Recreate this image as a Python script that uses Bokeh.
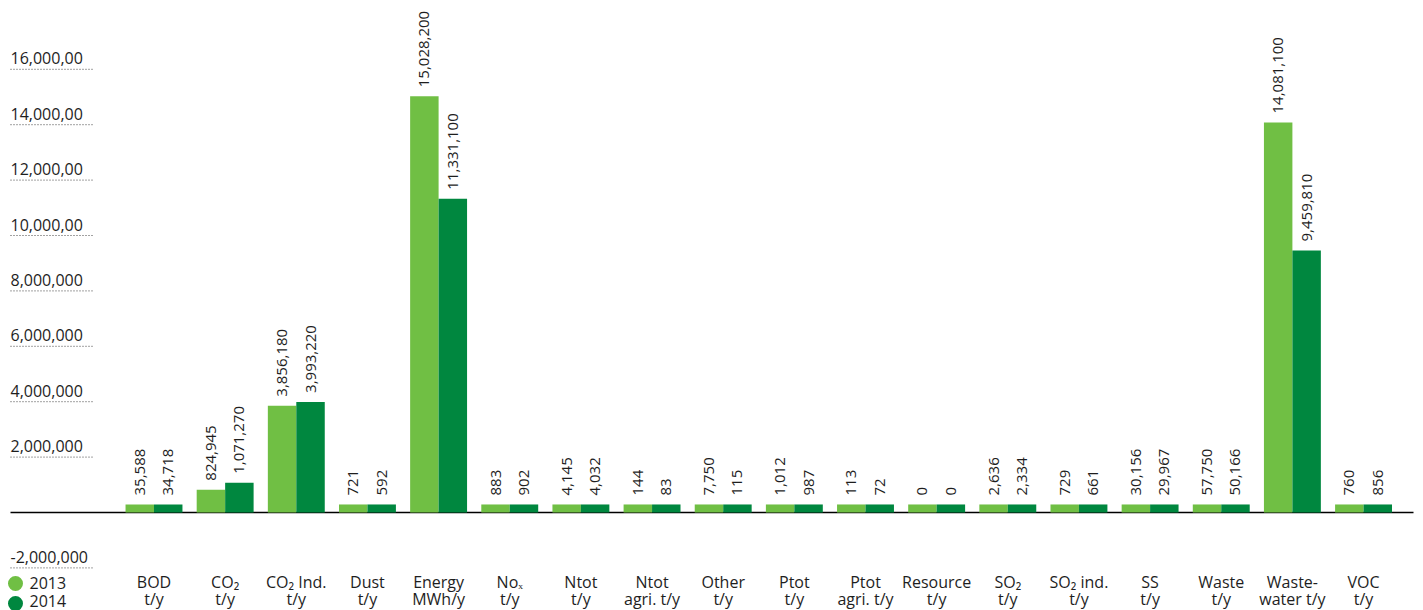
import numpy as np
from bokeh.plotting import figure
from bokeh.models import ColumnDataSource, Range1d
from bokeh.core.properties import value
from bokeh.embed import file_html
from bokeh.resources import INLINE

# ---- data -------------------------------------------------------------
categories = [
    "BOD\nt/y", "CO\u2082\nt/y", "CO\u2082 Ind.\nt/y", "Dust\nt/y",
    "Energy\nMWh/y", "No\u2093\nt/y", "Ntot\nt/y", "Ntot\nagri. t/y",
    "Other\nt/y", "Ptot\nt/y", "Ptot\nagri. t/y", "Resource\nt/y",
    "SO\u2082\nt/y", "SO\u2082 ind.\nt/y", "SS\nt/y", "Waste\nt/y",
    "Waste-\nwater t/y", "VOC\nt/y",
]
values_2013 = [35588, 824945, 3856180, 721, 15028200, 883, 4145, 144,
               7750, 1012, 113, 0, 2636, 729, 30156, 57750, 14081100, 760]
values_2014 = [34718, 1071270, 3993220, 592, 11331100, 902, 4032, 83,
               115, 987, 72, 0, 2334, 661, 29967, 50166, 9459810, 856]
years = ["2013", "2014"]
tick_values = [16e6, 14e6, 12e6, 10e6, 8e6, 6e6, 4e6, 2e6, -2e6]
tick_labels = ["16,000,00", "14,000,00", "12,000,00", "10,000,00",
               "8,000,000", "6,000,000", "4,000,000", "2,000,000",
               "-2,000,000"]

# ---- layout / style ---------------------------------------------------
W, H = 1423, 610
COLORS = ["#70bf44", "#00873f"]
TEXT = "#1e1e1e"
FONT = "Open Sans"
STUB = 290000          # smallest drawn bar so tiny values stay visible

PX_PER_CAT = 71.15     # horizontal pixels per category
FIRST_CENTER = 153.5   # pixel centre of the first group
PX_PER_UNIT = 27.7e-6  # vertical pixels per unit
ZERO_PX = 512          # pixel row of the zero line

x0 = -FIRST_CENTER / PX_PER_CAT
x1 = (W - FIRST_CENTER) / PX_PER_CAT
y1 = ZERO_PX / PX_PER_UNIT
y0 = -(H - ZERO_PX) / PX_PER_UNIT


def xpx(px):
    return x0 + px / PX_PER_CAT


def ypx(py):
    return y1 - py / PX_PER_UNIT


p = figure(width=W, height=H, x_range=Range1d(x0, x1), y_range=Range1d(y0, y1),
           output_backend="svg", toolbar_location=None, min_border=0,
           x_axis_location=None, y_axis_location=None)
p.grid.visible = False
p.outline_line_color = None
p.background_fill_color = "white"

idx = np.arange(len(categories))
bw = 0.40

# zero line
p.segment(x0=[xpx(10)], y0=[0], x1=[xpx(1413)], y1=[0], line_color="black", line_width=1.5)

for vals, col, off in [(values_2013, COLORS[0], -bw / 2), (values_2014, COLORS[1], bw / 2)]:
    v = np.array(vals, dtype=float)
    shown = np.maximum(v, STUB)
    src = ColumnDataSource(dict(x=idx + off, top=shown, lab=[f"{int(a):,}" for a in vals]))
    p.vbar(x="x", top="top", bottom=0, width=bw, source=src, fill_color=col, line_color=None)
    p.text(x="x", y="top", text="lab", source=src, angle=np.pi / 2, y_offset=-9,
           text_align="left", text_baseline="middle", text_font=value(FONT),
           text_font_size="15px", text_color=TEXT)

# y tick labels with dotted underline
p.segment(x0=[xpx(10)] * len(tick_values), y0=tick_values, x1=[xpx(94)] * len(tick_values),
          y1=tick_values, line_color="#444444", line_width=1, line_dash="1 2")
p.text(x=[xpx(10)] * len(tick_values), y=tick_values, text=tick_labels, y_offset=-11,
       text_align="left", text_baseline="alphabetic", text_font=value(FONT),
       text_font_size="16px", text_color=TEXT)

# category labels (two lines each)
line1 = [c.split("\n")[0] for c in categories]
line2 = [c.split("\n")[1] for c in categories]
p.text(x=idx, y=[ypx(581)] * len(idx), text=line1, text_align="center",
       text_baseline="alphabetic", text_font=value(FONT), text_font_size="16px", text_color=TEXT)
p.text(x=idx, y=[ypx(598)] * len(idx), text=line2, text_align="center",
       text_baseline="alphabetic", text_font=value(FONT), text_font_size="16px", text_color=TEXT)

# key: coloured dots with year names, bottom-left
key_rows = [583, 603]
key_text_rows = [582, 600]
p.scatter(x=[xpx(15)] * 2, y=[ypx(r) for r in key_rows], marker="circle", size=15,
          fill_color=COLORS, line_color=None)
p.text(x=[xpx(29)] * 2, y=[ypx(r) for r in key_text_rows], text=years, text_align="left",
       text_baseline="alphabetic", text_font=value(FONT), text_font_size="16px",
       text_color=TEXT)

open("out.html", "w").write(file_html(p, INLINE))
